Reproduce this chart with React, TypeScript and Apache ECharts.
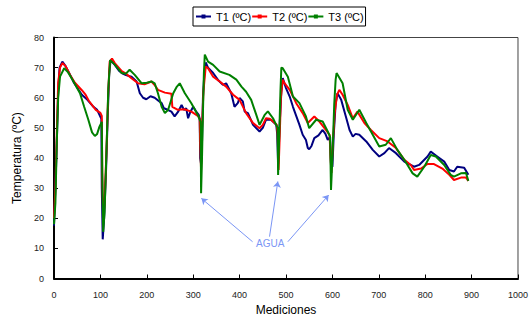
import React, { useEffect, useRef } from "react";
import * as echarts from "echarts";

const seriesNames = ["T1 (ºC)", "T2 (ºC)", "T3 (ºC)"];
const xTicks = [0, 100, 200, 300, 400, 500, 600, 700, 800, 900, 1000];
const yTicks = [0, 10, 20, 30, 40, 50, 60, 70, 80];

const t1X = [0, 3, 6, 9, 12, 18, 25, 35, 43, 60, 72, 85, 93, 102, 103, 105, 108, 112, 116, 119, 122, 131, 140, 146, 155, 167, 178, 185, 192, 199, 208, 217, 225, 232, 237, 245, 253, 260, 268, 275, 280, 285, 289, 293, 300, 306, 312, 314, 315, 317, 319, 321, 324, 327, 332, 343, 353, 364, 371, 382, 389, 396, 400, 407, 411, 418, 429, 443, 450, 457, 468, 479, 481, 483, 486, 490, 493, 500, 508, 515, 522, 529, 536, 543, 547, 550, 555, 561, 570, 579, 585, 590, 595, 597, 600, 603, 607, 611, 619, 629, 637, 644, 650, 658, 673, 687, 701, 712, 722, 737, 755, 776, 787, 805, 812, 826, 841, 852, 862, 869, 884, 893];
const t1Y = [17.5, 30, 45, 62, 70, 72, 70.5, 67.5, 65, 61, 59.3, 57, 56, 53, 30, 13, 20, 35, 55, 68, 72.5, 70.9, 69, 68.2, 67.5, 67, 65.4, 61.5, 60, 59.5, 60.5, 60, 59, 58.2, 56.5, 56, 55.4, 53.8, 55.5, 57.6, 56, 56.5, 53.2, 55, 57, 55.5, 54.3, 53, 40, 38, 45, 60, 68, 71.7, 70, 68.2, 66, 64.3, 64.8, 61.5, 57, 58.2, 59.9, 58.8, 55.4, 54.9, 51, 48.8, 50, 52.7, 52.7, 51, 48, 38, 50, 62, 66.5, 63.2, 60.4, 57, 54, 51, 47.7, 46, 43.3, 42.9, 44, 46.6, 47.5, 49.3, 48, 46, 47, 38, 37, 48, 58, 61.5, 59.3, 53.8, 49.3, 47.1, 48, 47.7, 45.5, 42.7, 40.5, 41.6, 43.3, 41.6, 38.8, 37.1, 37.7, 40.5, 42.1, 40.5, 38.8, 36, 35.5, 37.1, 36.8, 34.4];

const t2X = [0, 3, 6, 9, 13, 18, 25, 35, 45, 60, 68, 75, 90, 100, 103, 104, 106, 109, 113, 117, 120, 125, 131, 146, 155, 167, 181, 195, 210, 218, 224, 239, 253, 255, 267, 281, 296, 310, 314, 315, 317, 319, 322, 327, 332, 343, 357, 371, 386, 400, 414, 429, 443, 450, 457, 465, 472, 480, 482, 484, 486, 489, 493, 496, 508, 522, 536, 547, 561, 572, 583, 594, 596, 598, 601, 605, 610, 615, 622, 633, 644, 654, 669, 683, 701, 719, 737, 755, 769, 776, 791, 805, 819, 837, 852, 862, 877, 888, 893];
const t2Y = [20, 30, 48, 65, 70, 71.5, 70.5, 67.5, 65, 62.5, 61, 59, 56, 55, 54, 35, 19.5, 25, 42, 62, 72, 73, 71.5, 68.8, 68, 66.5, 64.8, 64.5, 65.4, 64, 62.6, 61.7, 61.3, 57, 56, 56.2, 55.4, 54, 53, 45, 36, 50, 62, 70.4, 69.8, 67, 65.4, 63.7, 61, 59.3, 54.9, 51.6, 49.9, 51, 53.2, 53, 52.1, 51, 48, 36, 45, 60, 66, 65, 62.6, 58.2, 54.9, 51.6, 53.8, 52.1, 49.9, 47.7, 40, 35, 45, 55, 61, 62.6, 61, 57.6, 53.2, 55.4, 51.6, 49.3, 46.6, 45.5, 43.3, 39.4, 37.7, 36, 36.5, 38, 38, 36.5, 34.4, 32.7, 33.5, 33.5, 32.4];

const t3X = [0, 3, 6, 9, 13, 22, 30, 40, 56, 65, 74, 82, 88, 93, 98, 103, 104, 106, 109, 113, 117, 121, 131, 146, 155, 163, 174, 189, 200, 210, 217, 224, 232, 239, 246, 257, 264, 271, 282, 296, 310, 316, 317, 319, 321, 323, 325, 332, 343, 357, 378, 393, 404, 414, 425, 436, 443, 454, 461, 472, 482, 483, 485, 488, 490, 493, 504, 515, 529, 543, 550, 565, 579, 590, 595, 597, 600, 604, 607, 609, 622, 633, 644, 658, 673, 687, 701, 715, 726, 740, 755, 773, 783, 798, 812, 823, 841, 855, 862, 877, 888, 893];
const t3Y = [18, 25, 45, 60, 67, 69.8, 68.5, 66, 61.5, 57, 52.7, 48.5, 47.3, 48, 50.4, 52, 35, 15.5, 22, 42, 63, 72.5, 71, 68.2, 68, 69.3, 67.6, 64.8, 65, 65.4, 64.8, 61.5, 57, 54.9, 56, 61.5, 63.5, 64.8, 61.5, 58.2, 54.3, 52, 28.3, 40, 55, 68, 74.3, 72, 70.9, 68.7, 67.6, 66, 63.7, 62, 59.3, 54.3, 51, 54.3, 55.5, 53.2, 50, 34.4, 45, 62, 70, 69.8, 67, 60.4, 58.2, 53.8, 49.9, 52.7, 52.1, 48.8, 47, 29.4, 40, 58, 66, 68.2, 64.8, 56, 52.7, 56, 51.6, 47.7, 43.8, 44.4, 46.6, 42.7, 39.4, 34.9, 33.8, 37.1, 41, 40.5, 37.7, 34.4, 33.8, 34.9, 35, 32.4];

const annotationText = "AGUA";
const arrowFrom = [[428, 12.2], [464.5, 13.9], [504, 12.2]];
const arrowTo = [[317.6, 26.6], [482.4, 32.2], [592, 27.7]];
const annotationAt = [466, 11.7];

const colors = ["#000080", "#ff0000", "#008000"];

function pairs(xs: number[], ys: number[]) {
  return xs.map((x, i) => [x, ys[i]]);
}

export default function App() {
  const ref = useRef<HTMLDivElement>(null);
  useEffect(() => {
    if (!ref.current) return;
    const chart = echarts.init(ref.current, null, { renderer: "svg" });
    const font = "Liberation Sans, Arial, sans-serif";
    const dataSets = [pairs(t1X, t1Y), pairs(t2X, t2Y), pairs(t3X, t3Y)];
    const annoColor = "#7b96f5";
    chart.setOption({
      animation: false,
      backgroundColor: "#ffffff",
      textStyle: { fontFamily: font },
      legend: {
        data: seriesNames,
        left: 193,
        top: 7,
        padding: [4, 2, 4, 2],
        itemGap: 0,
        itemWidth: 15,
        itemHeight: 5,
        borderColor: "#000",
        borderWidth: 1,
        textStyle: { fontSize: 11, color: "#000", fontFamily: font },
      },
      grid: {
        left: 54,
        top: 37.5,
        width: 465,
        height: 241,
        show: true,
        borderColor: "#444",
        borderWidth: 1,
        backgroundColor: "transparent",
      },
      xAxis: {
        type: "value",
        min: xTicks[0],
        max: xTicks[xTicks.length - 1],
        interval: 100,
        name: "Mediciones",
        nameLocation: "middle",
        nameGap: 25,
        nameTextStyle: { fontSize: 12, color: "#000", fontFamily: font },
        axisLine: { lineStyle: { color: "#000", width: 2 } },
        axisTick: { inside: true, length: 4, lineStyle: { color: "#000" } },
        axisLabel: { fontSize: 9, color: "#222", margin: 12, fontFamily: font, formatter: (v: number) => String(v) },
        splitLine: { show: false },
      },
      yAxis: {
        type: "value",
        min: yTicks[0],
        max: yTicks[yTicks.length - 1],
        interval: 10,
        name: "Temperatura (ºC)",
        nameLocation: "middle",
        nameGap: 28,
        nameTextStyle: { fontSize: 12, color: "#000", fontFamily: font },
        axisLine: { show: true, lineStyle: { color: "#000", width: 2 } },
        axisTick: { show: true, inside: true, length: 4, lineStyle: { color: "#000" } },
        axisLabel: { fontSize: 9, color: "#222", margin: 10, fontFamily: font, formatter: (v: number) => String(v) },
        splitLine: { show: false },
      },
      series: [
        ...seriesNames.map((name, i) => ({
          name,
          type: "line",
          data: dataSets[i],
          showSymbol: false,
          symbol: "rect",
          symbolSize: 4,
          color: colors[i],
          lineStyle: { color: colors[i], width: 2 },
          z: 2 + i,
        })),
        {
          name: "agua",
          type: "scatter",
          data: [],
          z: 10,
          markLine: {
            silent: true,
            symbol: ["none", "arrow"],
            symbolSize: 6,
            label: { show: false },
            lineStyle: { color: annoColor, width: 1, type: "solid" },
            data: arrowFrom.map((f, i) => [{ coord: f }, { coord: arrowTo[i] }]),
          },
          markPoint: {
            silent: true,
            symbol: "circle",
            symbolSize: 0,
            label: {
              show: true,
              formatter: annotationText,
              color: annoColor,
              fontSize: 10,
              fontFamily: font,
            },
            data: [{ coord: annotationAt }],
          },
        },
      ],
    });
    return () => chart.dispose();
  }, []);
  return <div ref={ref} style={{ width: 531, height: 329, position: "absolute", left: 0, top: 0 }} />;
}
